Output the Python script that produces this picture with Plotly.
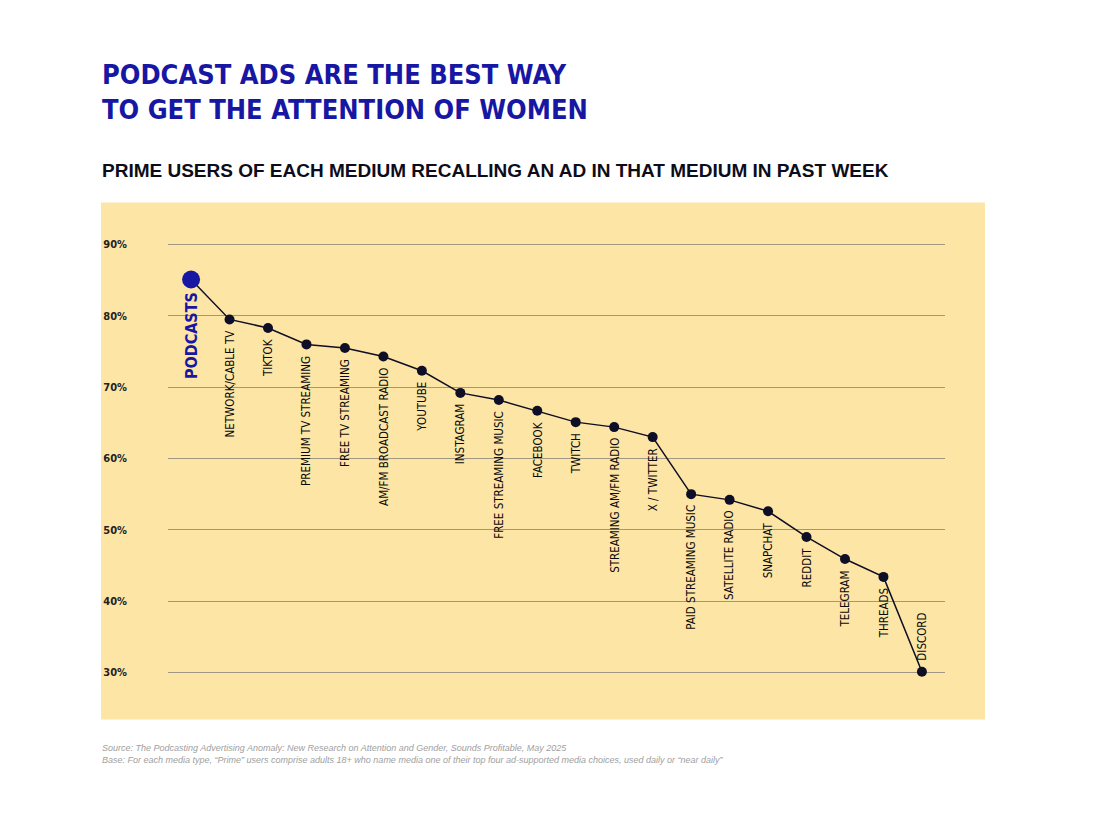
import plotly.graph_objects as go

# media types, ordered as in the chart
media = [
    "PODCASTS", "NETWORK/CABLE TV", "TIKTOK", "PREMIUM TV STREAMING",
    "FREE TV STREAMING", "AM/FM BROADCAST RADIO", "YOUTUBE", "INSTAGRAM",
    "FREE STREAMING MUSIC", "FACEBOOK", "TWITCH", "STREAMING AM/FM RADIO",
    "X / TWITTER", "PAID STREAMING MUSIC", "SATELLITE RADIO", "SNAPCHAT",
    "REDDIT", "TELEGRAM", "THREADS", "DISCORD",
]
# % of prime users recalling an ad
recall = [85.1, 79.5, 78.3, 76.0, 75.5, 74.3, 72.3, 69.2, 68.2, 66.7,
          65.1, 64.4, 63.0, 55.0, 54.2, 52.6, 49.0, 45.9, 43.4, 30.1]
y_ticks = [30, 40, 50, 60, 70, 80, 90]
y_tick_text = [f"{v}%" for v in y_ticks]

BLUE = "#1717a3"
NAVY = "#0e0e26"
PANEL = "#fde5a5"
NARROW = "Liberation Sans Narrow, DejaVu Sans Condensed, Arial Narrow, sans-serif"

x = list(range(len(media)))

fig = go.Figure()
fig.add_trace(go.Scatter(
    x=x, y=recall, mode="lines+markers",
    line=dict(color=NAVY, width=1.5),
    marker=dict(color=[BLUE] + [NAVY] * (len(media) - 1),
                size=[18] + [10] * (len(media) - 1),
                opacity=1, line=dict(width=0)),
    opacity=1, cliponaxis=False, hoverinfo="skip",
))

# rotated category labels hanging below each point (DISCORD sits above its point)
for i, (name, val) in enumerate(zip(media, recall)):
    first = i == 0
    last = i == len(media) - 1
    fig.add_annotation(
        x=i, y=val, text=name, textangle=-90, showarrow=False,
        xanchor="center", yanchor="bottom" if last else "top",
        yshift=9 if last else (-11 if first else -9),
        font=dict(family=NARROW, size=16 if first else 11.5,
                  color=BLUE if first else "#0a0a0a",
                  weight="bold" if first else "normal"),
    )

# yellow panel behind the chart
fig.add_shape(type="rect", xref="paper", yref="paper",
              x0=-0.0862, x1=1.0515, y0=-0.100, y1=1.0887,
              fillcolor=PANEL, line_width=0, layer="below")

fig.add_annotation(
    xref="paper", yref="paper", x=-0.0875, y=1.4227, xanchor="left", yanchor="top",
    text="PODCAST ADS ARE THE BEST WAY<br>TO GET THE ATTENTION OF WOMEN",
    showarrow=False, align="left",
    font=dict(family=NARROW, size=27, color=BLUE, weight="bold"),
)
fig.add_annotation(
    xref="paper", yref="paper", x=-0.0875, y=1.191, xanchor="left", yanchor="top",
    text="PRIME USERS OF EACH MEDIUM RECALLING AN AD IN THAT MEDIUM IN PAST WEEK",
    showarrow=False,
    font=dict(family="Liberation Sans, Arial, sans-serif", size=19,
              color="#0d0d1a", weight="bold"),
)
fig.add_annotation(
    xref="paper", yref="paper", x=-0.0875, y=-0.1495, xanchor="left", yanchor="top",
    text="<i>Source: The Podcasting Advertising Anomaly: New Research on Attention and Gender, "
         "Sounds Profitable, May 2025<br>Base: For each media type, \u201cPrime\u201d users comprise "
         "adults 18+ who name media one of their top four ad-supported media choices, "
         "used daily or \u201cnear daily\u201d</i>",
    showarrow=False, align="left",
    font=dict(family="Liberation Sans, Arial, sans-serif", size=9, color="#a0a0a0"),
)

fig.update_layout(
    width=1100, height=826,
    margin=dict(l=160, r=163, t=233.4, b=158.4),
    paper_bgcolor="white", plot_bgcolor="rgba(0,0,0,0)",
    showlegend=False,
    xaxis=dict(range=[-0.6, 19.6], showticklabels=False, showgrid=False,
               zeroline=False, showline=False),
    yaxis=dict(range=[29.5, 90.5], tickvals=y_ticks, ticktext=y_tick_text,
               showgrid=True, gridcolor="#a09682", gridwidth=1,
               zeroline=False, showline=False, ticklabelstandoff=40,
               tickfont=dict(family=NARROW, size=11, color="#222222", weight="bold")),
)

fig.write_html("out.html")
